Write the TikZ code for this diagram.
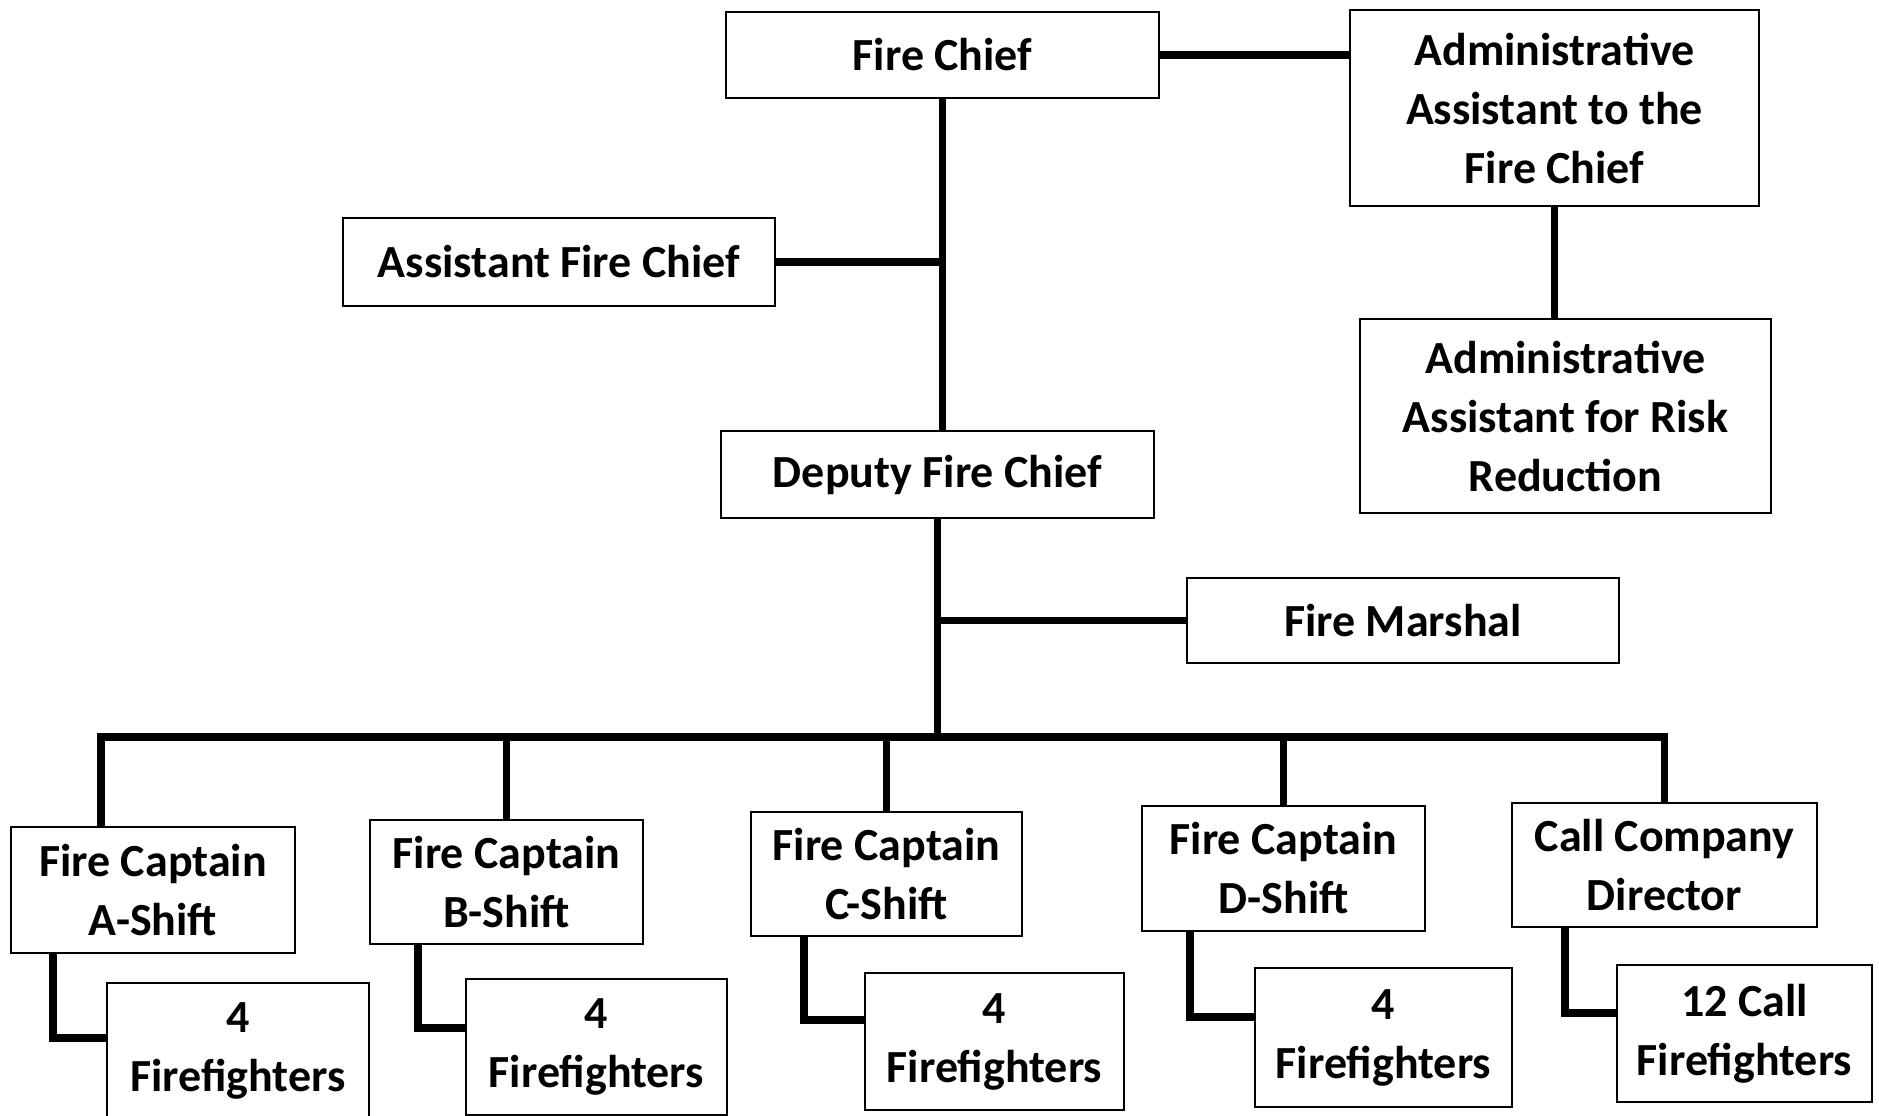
\documentclass[tikz,border=0pt]{standalone}
\usepackage{fontspec}
\setmainfont{Carlito}
\usetikzlibrary{calc}

\begin{document}
\begin{tikzpicture}[x=1pt,y=-1pt,
  post/.style={draw=black,line width=1.6pt,fill=white,inner sep=0pt,align=center,
    font=\fontsize{46}{59}\selectfont\bfseries},
  link/.style={black,line width=7.5pt,line join=miter}]
\path[use as bounding box] (0,0) rectangle (1879,1116);
% top of the chart
\node[post,minimum width=433,minimum height=86] (chief) at (942.5,55) {Fire Chief};
\node[post,minimum width=409,minimum height=196] (admin) at (1554.5,108) {Administrative\\Assistant to the\\Fire Chief};
\node[post,minimum width=432,minimum height=88] (asst) at (559,262) {Assistant Fire Chief};
\node[post,minimum width=411,minimum height=194] (risk) at (1565.5,416) {Administrative\\Assistant for Risk\\Reduction};
\node[post,minimum width=433,minimum height=87] (deputy) at (937.5,474.5) {Deputy Fire Chief};
\node[post,minimum width=432,minimum height=85] (marshal) at (1403,620.5) {Fire Marshal};
% shifts
\node[post,minimum width=284,minimum height=126] (capA) at (153,890) {Fire Captain\\A-Shift};
\node[post,minimum width=273,minimum height=124] (capB) at (506.5,882) {Fire Captain\\B-Shift};
\node[post,minimum width=271,minimum height=124] (capC) at (886.5,874) {Fire Captain\\C-Shift};
\node[post,minimum width=283,minimum height=125] (capD) at (1283.5,868.5) {Fire Captain\\D-Shift};
\node[post,minimum width=305,minimum height=124] (callco) at (1664.5,865) {Call Company\\Director};
\node[post,minimum width=262,minimum height=136] (ffA) at (238,1051) {4\\Firefighters};
\node[post,minimum width=261,minimum height=136] (ffB) at (596.5,1047) {4\\Firefighters};
\node[post,minimum width=259,minimum height=137] (ffC) at (994.5,1041.5) {4\\Firefighters};
\node[post,minimum width=257,minimum height=139] (ffD) at (1383.5,1037.5) {4\\Firefighters};
\node[post,minimum width=255,minimum height=137] (ffE) at (1744.5,1033.5) {12 Call\\Firefighters};
% connectors
\draw[link] (chief.east) -- (chief.east -| admin.west);
\draw[link] (admin.south) -- (admin.south |- risk.north);
\draw[link] (chief.south) -- (chief.south |- deputy.north);
\draw[link] (asst.east) -- (asst.east -| chief.south);
\draw[link] (marshal.west) -- (marshal.west -| deputy.south);
\coordinate (bus) at (940,737);
\coordinate (dropA) at (101,737);
\draw[link] (deputy.south) -- (deputy.south |- bus);
\draw[link] (dropA |- capA.north) -- (dropA) -- (callco.north |- bus) -- (callco.north);
\draw[link] (capB.north |- bus) -- (capB.north);
\draw[link] (capC.north |- bus) -- (capC.north);
\draw[link] (capD.north |- bus) -- (capD.north);
\coordinate (kA) at (53,1038);
\coordinate (kB) at (418,1028);
\coordinate (kC) at (804,1020);
\coordinate (kD) at (1190,1017);
\coordinate (kE) at (1565,1013);
\draw[link] (capA.south -| kA) -- (kA) -- (kA -| ffA.west);
\draw[link] (capB.south -| kB) -- (kB) -- (kB -| ffB.west);
\draw[link] (capC.south -| kC) -- (kC) -- (kC -| ffC.west);
\draw[link] (capD.south -| kD) -- (kD) -- (kD -| ffD.west);
\draw[link] (callco.south -| kE) -- (kE) -- (kE -| ffE.west);
\end{tikzpicture}
\end{document}
